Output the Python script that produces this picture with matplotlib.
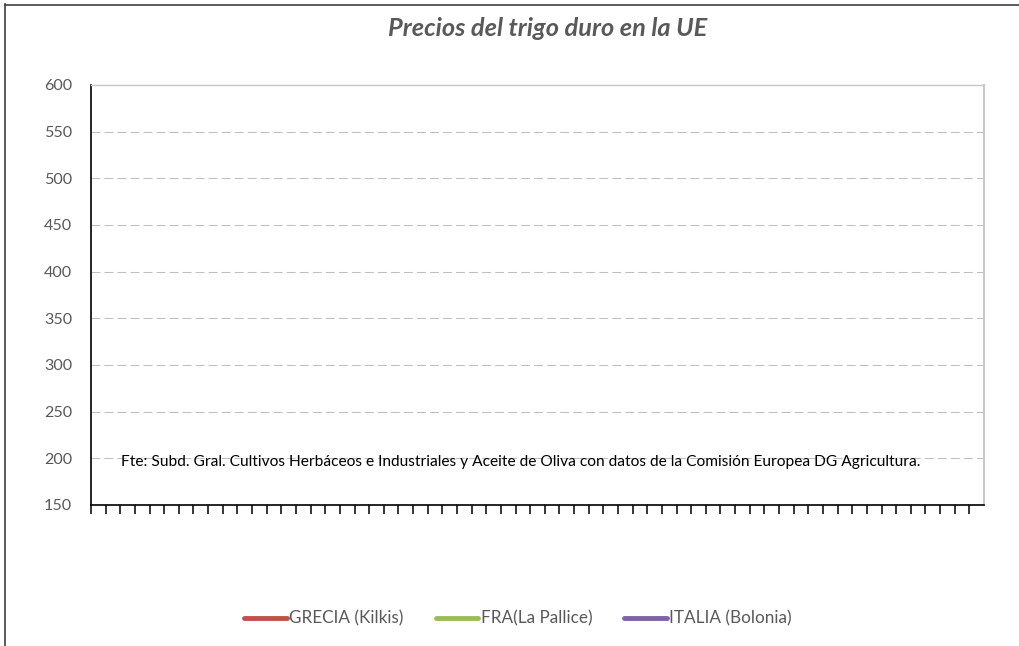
import matplotlib
matplotlib.use("Agg")
import matplotlib.pyplot as plt
import numpy as np

# ---- data ----
categories = list(range(61))          # weekly slots (no labels shown)
series_names = ["GRECIA (Kilkis)", "FRA(La Pallice)", "ITALIA (Bolonia)"]
grecia = []        # no values plotted in reference
fra = []
italia = []
y_ticks = [150, 200, 250, 300, 350, 400, 450, 500, 550, 600]
title = "Precios del trigo duro en la UE"
source = ("Fte: Subd. Gral. Cultivos Herbáceos e Industriales y Aceite de Oliva "
          "con datos de la Comisión Europea DG Agricultura.")

W, H = 1020, 646
DPI = 100
plt.rcParams['font.family'] = ['Lato', 'DejaVu Sans']
fig = plt.figure(figsize=(W / DPI, H / DPI), dpi=DPI)
fig.patch.set_facecolor('white')

def fx(px):
    return px / W

def fy(py):
    return 1 - py / H

left, right, top, bottom = 91, 984, 85, 505
ax = fig.add_axes([fx(left), fy(bottom), fx(right - left), (bottom - top) / H])

colors = ['#C0504D', '#9BBB59', '#8064A2']
handles = []
for name, vals, c in zip(series_names, [grecia, fra, italia], colors):
    x = categories[:len(vals)]
    h, = ax.plot(x, vals, color=c, lw=3.5, solid_capstyle='round', label=name)
    handles.append(h)

ax.set_xlim(0, 61)
ax.set_ylim(150, 600)
ax.set_yticks(y_ticks)
ax.set_xticks(np.arange(0, 61))
ax.set_xticklabels([])
ax.tick_params(axis='x', direction='out', length=6.5, width=1.1, color='black')
ax.tick_params(axis='y', length=0, pad=13.5, labelsize=12, labelcolor='#595959')

for y in y_ticks[1:-1]:
    ax.axhline(y, color='#BFBFBF', lw=0.75, ls=(0, (8.5, 4)), zorder=0)

ax.spines['left'].set_color('black')
ax.spines['left'].set_linewidth(1.2)
ax.spines['bottom'].set_color('black')
ax.spines['bottom'].set_linewidth(1.2)
ax.spines['top'].set_color('#C8C8C8')
ax.spines['top'].set_linewidth(1.0)
ax.spines['right'].set_color('#C8C8C8')
ax.spines['right'].set_linewidth(1.5)

# title
t = fig.text(fx(548), fy(29), title, ha='center', va='center', fontsize=16,
             fontstyle='italic', fontweight='bold', color='#595959')
# source note
s = fig.text(fx(520.5), fy(462), source, ha='center', va='center', fontsize=9,
             color='black')

leg = ax.legend(handles=handles, loc='center', bbox_to_anchor=(fx(518), fy(618)),
                bbox_transform=fig.transFigure, ncol=3, frameon=False,
                fontsize=11, handlelength=2.8, handletextpad=0.15,
                columnspacing=2.1, labelcolor='#595959')

# fit text widths to reference
fig.canvas.draw()
r = fig.canvas.get_renderer()
def fit(txt, target):
    w = txt.get_window_extent(r).width
    txt.set_fontsize(txt.get_fontsize() * target / w)
fit(t, 320)
fit(s, 807)
lab600 = ax.get_yticklabels()[-1]
w600 = lab600.get_window_extent(r).width
ax.tick_params(axis='y', labelsize=12 * 28 / w600)
lt = leg.get_texts()[0]
lw_ = lt.get_window_extent(r).width
fs = 11 * 114 / lw_
for tt in leg.get_texts():
    tt.set_fontsize(fs)
fig.canvas.draw()

# outer chart border
fig.add_artist(plt.Line2D([fx(5), fx(5)], [fy(4), 0], transform=fig.transFigure,
                          color='#404040', lw=1.2))
fig.add_artist(plt.Line2D([fx(5), 1], [fy(4.5), fy(4.5)], transform=fig.transFigure,
                          color='#404040', lw=1.2))

fig.savefig('out.png', dpi=DPI, facecolor='white')
